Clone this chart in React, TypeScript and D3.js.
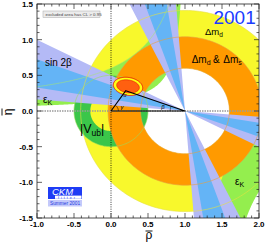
import * as d3 from 'd3'

// axis ranges and tick labels
const rhoDomain = [-1, 2]
const etaDomain = [-1.5, 1.5]
const rhoLabels = [-1, -0.5, 0, 0.5, 1, 1.5, 2]
const etaLabels = [-1.5, -1, -0.5, 0, 0.5, 1, 1.5]

// Δm_d (yellow) and Δm_d & Δm_s (orange): rings around (1, 0)
const dmCentre = [1, 0]
const dmdRadii = [0.6, 1.41]
const dmdDmsRadii = [0.6, 1.04]

// |Vub/Vcb|: ring around (0, 0)
const vubCentre = [0, 0]
const vubRadii = [0.28, 0.5]

// sin 2β, inner and outer ranges
const sin2bInner = [0.32, 0.64]
const sin2bOuter = [0.16, 0.8]

// ε_K band edges, eta = a / (p - rho), given as [a, p]
const epsKUpperLow = [0.15, 1.04]
const epsKUpperHigh = [0.784, 1.306]
const epsKLowerInner = [0.298, 1.183]
const epsKLowerOuter = [0.784, 1.306]

// global fit: centre, half widths of the CL contours, apex of the triangle
const fitCentre = [0.23, 0.345]
const fitOuterHalf = [0.2, 0.125]
const fitInnerHalf = [0.155, 0.09]
const apex = [0.2, 0.285]

const font = 'Liberation Sans, Arial, Helvetica, sans-serif'
const yellow = '#f8f82c'
const orange = '#ff9a00'
const epsGreen = '#94ee4e'
const vubGreen = '#3bc64a'
const lightBlue = '#b4baf6'
const darkBlue = '#64b4f6'

export default function App() {
  const x = d3.scaleLinear().domain(rhoDomain).range([37, 259])
  const y = d3.scaleLinear().domain(etaDomain).range([218, 4])
  const line = d3.line()
  const rad = Math.PI / 180

  // ellipse / circle in data units, drawn as a closed polygon
  const ellipse = (c, hx, hy, tilt = 0) =>
    line(
      d3.range(0, 360, 2).map((a) => {
        const t = a * rad
        const u = hx * Math.cos(t)
        const v = hy * Math.sin(t)
        const ct = Math.cos(tilt * rad)
        const st = Math.sin(tilt * rad)
        return [x(c[0] + u * ct - v * st), y(c[1] + u * st + v * ct)]
      })
    ) + 'Z'
  const ring = (c, r) => ellipse(c, r[1], r[1]) + ellipse(c, r[0], r[0])

  // sin2β: lines through (1,0), both twofold solutions
  const betaRanges = (s) => {
    const b0 = Math.asin(s[0]) / 2
    const b1 = Math.asin(s[1]) / 2
    return [
      [b0, b1],
      [Math.PI / 2 - b1, Math.PI / 2 - b0],
    ]
  }
  const wedge = ([a, b]) => {
    const L = 4
    const v = [x(dmCentre[0]), y(dmCentre[1])]
    const p = (phi, s) => [x(dmCentre[0] - s * L * Math.cos(phi)), y(s * L * Math.sin(phi))]
    return `M${v}L${p(a, 1)}L${p(b, 1)}Z M${v}L${p(a, -1)}L${p(b, -1)}Z`
  }

  // ε_K band
  const hyp = ([a, p], r) => a / (p - r)
  const clampEta = (v) => Math.max(-1.6, Math.min(1.6, v))
  const upperRho = d3.range(-1.05, 0.975, 0.004)
  const upperArea = d3
    .area()
    .defined((r) => hyp(epsKUpperLow, r) < 1.6)
    .x((r) => x(r))
    .y0((r) => y(hyp(epsKUpperLow, r)))
    .y1((r) => y(clampEta(hyp(epsKUpperHigh, r))))
  const lowerRho = d3.range(1.19, 2.05, 0.004)
  const lowerBottom = (r) => (r > epsKLowerOuter[1] ? Math.max(-1.6, hyp(epsKLowerOuter, r)) : -1.6)
  const lowerArea = d3
    .area()
    .defined((r) => hyp(epsKLowerInner, r) > lowerBottom(r))
    .x((r) => x(r))
    .y0((r) => y(hyp(epsKLowerInner, r)))
    .y1((r) => y(lowerBottom(r)))
  const upperEdge = d3
    .line()
    .defined((r) => hyp(epsKUpperHigh, r) < 1.6)
    .x((r) => x(r))
    .y((r) => y(hyp(epsKUpperHigh, r)))

  const arc = (c, r, a0, a1) =>
    line(
      d3.range(0, 11).map((i) => {
        const t = a0 + ((a1 - a0) * i) / 10
        return [x(c[0] + r * Math.cos(t)), y(c[1] + r * Math.sin(t))]
      })
    )
  const gammaAngle = Math.atan2(apex[1], apex[0])
  const betaAngle = Math.atan2(apex[1], 1 - apex[0])

  const minorX = x.ticks(30)
  const minorY = y.ticks(30)
  const isMajor = (v) => Math.abs(v * 2 - Math.round(v * 2)) < 1e-6
  const [x0, x1] = x.range()
  const [y0, y1] = [y(-1.5), y(1.5)]

  return (
    <svg width={266} height={250} style={{ position: 'absolute', left: 0, top: 0, background: '#fff' }} fontFamily={font}>
      <defs>
        <clipPath id="plot">
          <rect x={x0} y={y1} width={x1 - x0} height={y0 - y1} />
        </clipPath>
      </defs>

      <g clipPath="url(#plot)">
        <path d={ring(dmCentre, dmdRadii)} fill={yellow} fillRule="evenodd" />
        <path d={upperArea(upperRho)} fill={epsGreen} />
        <path d={lowerArea(lowerRho)} fill={epsGreen} />
        <path d={ring(vubCentre, vubRadii)} fill={vubGreen} fillRule="evenodd" />
        <path d={ring(dmCentre, dmdDmsRadii)} fill={orange} fillRule="evenodd" />
        {betaRanges(sin2bOuter).map((b, i) => (
          <path key={'o' + i} d={wedge(b)} fill={lightBlue} />
        ))}
        {betaRanges(sin2bInner).map((b, i) => (
          <path key={'i' + i} d={wedge(b)} fill={darkBlue} />
        ))}

        {/* thin contour lines over the bands */}
        <path d={ellipse(vubCentre, vubRadii[1], vubRadii[1])} fill="none" stroke="#9bdc5c" strokeWidth={0.6} />
        <path d={ellipse(dmCentre, dmdDmsRadii[0], dmdDmsRadii[0])} fill="none" stroke="#e8a040" strokeWidth={0.6} />
        <path d={ellipse(dmCentre, dmdDmsRadii[1], dmdDmsRadii[1])} fill="none" stroke="#e8a040" strokeWidth={0.6} />
        <path d={ellipse(dmCentre, dmdRadii[1], dmdRadii[1])} fill="none" stroke="#e6e040" strokeWidth={0.6} />
        <path d={upperEdge(upperRho)} fill="none" stroke="#a8e870" strokeWidth={0.6} />

        {/* global fit */}
        <path d={ellipse(fitCentre, fitOuterHalf[0], fitOuterHalf[1], -10)} fill="#ffff10" stroke="#e0000a" strokeWidth={0.8} />
        <path d={ellipse(fitCentre, fitInnerHalf[0], fitInnerHalf[1], -10)} fill="#ff6010" stroke="#d40000" strokeWidth={0.5} />

        <line x1={x0} x2={x1} y1={y(0)} y2={y(0)} stroke="#9a9a9a" strokeWidth={1.3} strokeDasharray="1.5 1" />
        <line x1={x(0)} x2={x(0)} y1={y1} y2={y0} stroke="#000" strokeWidth={0.8} strokeDasharray="1 1.3" />

        {/* unitarity triangle */}
        <path
          d={line([
            [x(0), y(0)],
            [x(apex[0]), y(apex[1])],
            [x(1), y(0)],
            [x(0), y(0)],
          ])}
          fill="none"
          stroke="#000"
          strokeWidth={1.1}
          strokeLinejoin="round"
        />
        <path d={arc([0, 0], 0.1, 0, gammaAngle)} fill="none" stroke="#000" strokeWidth={0.5} />
        <path d={arc([1, 0], 0.2, Math.PI - betaAngle, Math.PI)} fill="none" stroke="#000" strokeWidth={0.5} />
        <text x={x(0.13)} y={y(0.03)} fontSize={6} fontStyle="italic">γ</text>
        <text x={x(0.68)} y={y(0.03)} fontSize={6} fontStyle="italic">β</text>
        <text x={x(0.17)} y={y(0.2)} fontSize={5} fontStyle="italic">α</text>
      </g>

      {/* frame and ticks */}
      <rect x={x0} y={y1} width={x1 - x0} height={y0 - y1} fill="none" stroke="#222" strokeWidth={0.8} />
      {minorX.map((v) => {
        const l = isMajor(v) ? 5 : 2.5
        return (
          <g key={'x' + v} stroke="#222" strokeWidth={0.7}>
            <line x1={x(v)} x2={x(v)} y1={y0} y2={y0 - l} />
            <line x1={x(v)} x2={x(v)} y1={y1} y2={y1 + l} />
          </g>
        )
      })}
      {minorY.map((v) => {
        const l = isMajor(v) ? 5 : 2.5
        return (
          <g key={'y' + v} stroke="#222" strokeWidth={0.7}>
            <line x1={x0} x2={x0 + l} y1={y(v)} y2={y(v)} />
            <line x1={x1} x2={x1 - l} y1={y(v)} y2={y(v)} />
          </g>
        )
      })}
      {rhoLabels.map((v) => (
        <text key={'xl' + v} x={x(v)} y={y0 + 9} fontSize={8} fontWeight="bold" textAnchor="middle">
          {v.toFixed(1)}
        </text>
      ))}
      {etaLabels.map((v) => (
        <text key={'yl' + v} x={x0 - 4} y={y(v) + 3} fontSize={8} fontWeight="bold" textAnchor="end">
          {v.toFixed(1)}
        </text>
      ))}

      {/* axis titles */}
      <text x={149} y={239} fontSize={12} textAnchor="middle">ρ</text>
      <line x1={145.5} x2={152.5} y1={231} y2={231} stroke="#000" strokeWidth={0.9} />
      <g transform="translate(11.5,112) rotate(-90)">
        <text x={0} y={0} fontSize={12} textAnchor="middle">η</text>
        <line x1={-3.5} x2={3.5} y1={-9.5} y2={-9.5} stroke="#000" strokeWidth={0.9} />
      </g>

      {/* labels */}
      <rect x={43} y={11} width={57} height={6.5} fill="#ececec" stroke="#a8a8a8" strokeWidth={0.5} />
      <text x={45.5} y={16} fontSize={4.4} fill="#444">excluded area has CL &gt; 0.95</text>

      <text x={x(1.385)} y={y(1.22)} fontSize={19} fill="#1a3cff">2001</text>
      <text x={x(1.27)} y={y(1.07)} fontSize={9.5}>
        Δm<tspan fontSize={6.5} dy={2}>d</tspan>
      </text>
      <text x={x(1.09)} y={y(0.67)} fontSize={10}>
        Δm<tspan fontSize={7} dy={2}>d</tspan>
        <tspan dy={-2} dx={2.5}>&amp;</tspan>
        <tspan dx={3.5}>Δm</tspan>
        <tspan fontSize={7} dy={2}>s</tspan>
      </text>
      <text x={45} y={66} fontSize={10}>sin 2β</text>
      <text x={43} y={103} fontSize={10}>
        ε<tspan fontSize={7} dy={2}>K</tspan>
      </text>
      <text x={235} y={185} fontSize={10}>
        ε<tspan fontSize={7} dy={2}>K</tspan>
      </text>
      <text x={80} y={133} fontSize={12.5}>
        |V<tspan fontSize={8.5} dy={2.5}>ub</tspan>
        <tspan dy={-2.5}>|</tspan>
      </text>

      {/* CKMfitter logo */}
      <rect x={48} y={187} width={34} height={12} fill="#1e3cf5" />
      <text x={52} y={195} fontSize={9.5} fontStyle="italic" fill="#fff">CKM</text>
      <rect x={55} y={195.6} width={26.5} height={3.2} fill="#fff" />
      <text x={58} y={198.5} fontSize={3.6} fill="#1e3cf5" letterSpacing={2}>fitter</text>
      <rect x={48} y={200} width={34} height={6.5} fill="#c4c9fb" />
      <text x={50} y={205.2} fontSize={4.8} fill="#2440e0">Summer 2001</text>
    </svg>
  )
}
